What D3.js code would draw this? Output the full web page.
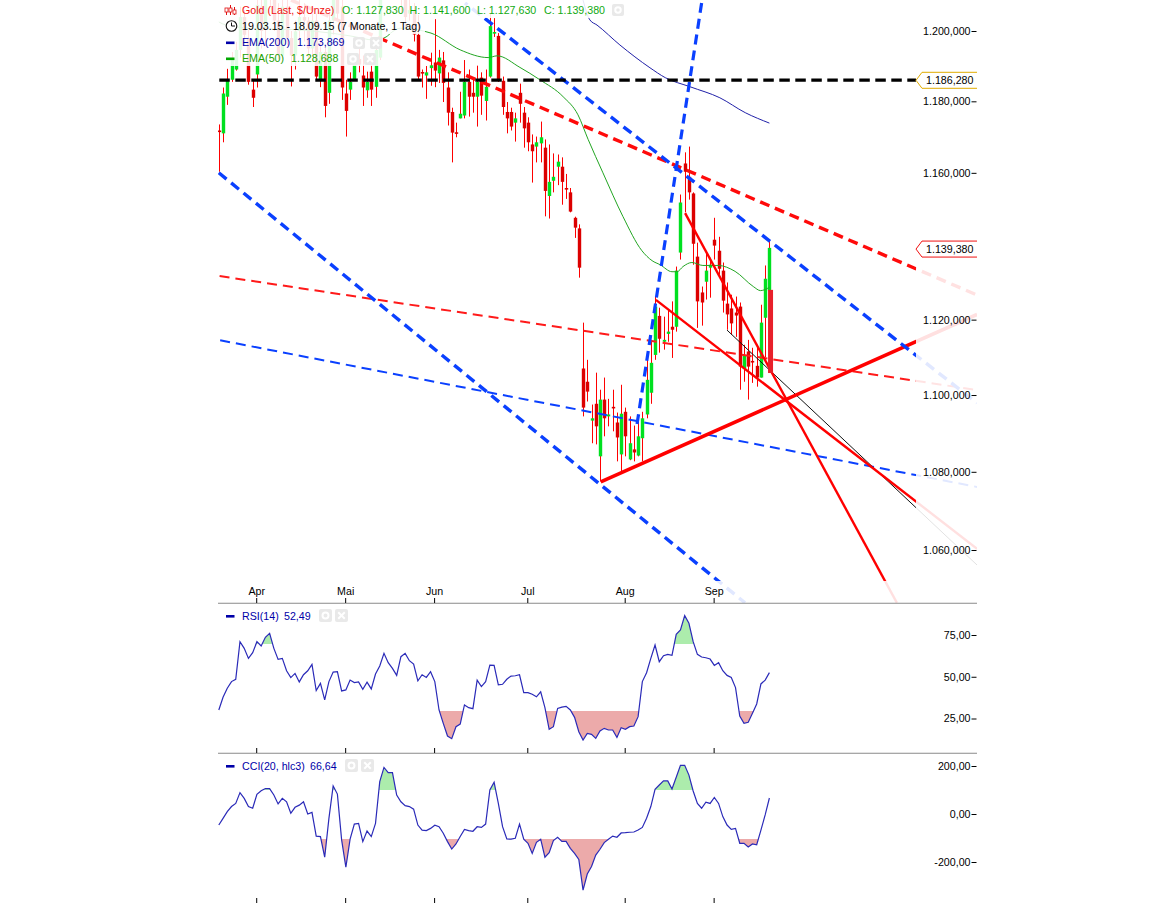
<!DOCTYPE html>
<html><head><meta charset="utf-8">
<script src="https://cdn.jsdelivr.net/npm/d3@7/dist/d3.min.js"></script>
<style>
html,body{margin:0;padding:0;background:#fff;overflow:hidden}
svg{display:block}
text{font-family:"Liberation Sans",Arial,sans-serif;font-size:10.67px}
</style></head><body>
<svg id="c" width="1152" height="905"></svg>
<script>
const monthLabels=["Apr","Mai","Jun","Jul","Aug","Sep"];
const monthIdx=[9,30,51,73,96,117];
const open_=[1171.8,1171.0,1181.3,1186.1,1189.0,1194.6,1204.0,1198.0,1183.3,1187.6,
1207,1201,1219,1211,1203,1193,1207,1198,1193,1200,
1204,1203,1195,1203,1186,1194,1182.4,1203,1211,1207,
1182.2,1183.3,1186.1,1192,1187.3,1183.1,1188.4,1184.1,1192.4,1216,
1225,1220,1225,1226,1209,1205,1206,1198.9,1188.3,1187.3,
1189.4,1191,1187.9,1191.6,1183.9,1177,1171.3,1175.2,1176,1185.5,
1182.4,1181.3,1186.7,1180.1,1187,1199.6,1198.6,1185.8,1177,1177,
1174,1182.4,1176.8,1174,1167.9,1167.3,1168.2,1167,1153.6,1157.8,
1161.7,1161.7,1155.8,1154.6,1147.6,1144.7,1107,1103.5,1093.3,1097.7,
1084,1098.8,1094.4,1096.9,1092.8,1084.5,1095.6,1083.2,1085.8,1084.2,
1088.7,1094.9,1100.6,1110.6,1121,1114.1,1116.2,1118.1,1118.1,1138.1,
1162.6,1158.9,1154.3,1137,1127.3,1130.2,1134,1141.6,1138.6,1133.2,
1124.3,1123,1121.9,1123.5,1107,1111.5,1109,1107.7,1104.6,1120.5,
1127.83];
const high_=[1173.5,1183.9,1189.2,1194,1196.9,1207,1206,1200.3,1186.1,1209,
1209,1224,1224,1214,1208,1209,1209,1200,1203,1209,
1208,1204,1205,1205,1198,1196,1205,1215,1215,1209,
1186.1,1188.2,1193,1198,1193,1188.4,1191.2,1197.4,1220,1226,
1228,1227,1232,1230,1214,1210,1208,1204.6,1189,1190,
1193.8,1203.4,1194.6,1194,1188.2,1178.2,1174,1182.7,1191.7,1189,
1186.7,1190.1,1188.2,1189,1205.2,1203.7,1199.4,1187,1179.8,1178.2,
1176.8,1185,1178.4,1175.5,1170.7,1170.1,1174.3,1169.3,1167.9,1165.4,
1165.1,1164.3,1159.7,1155.8,1147.9,1145.8,1119.2,1109.3,1097.5,1105.9,
1101.4,1104.6,1099,1101.4,1095.4,1102.7,1096.7,1094.4,1092,1094.4,
1095.6,1109.3,1114.6,1126.2,1123.2,1120.8,1122.7,1124.9,1134.3,1154,
1165.7,1167.3,1154.6,1140.8,1128.9,1138.1,1136.7,1147.6,1142.4,1135.4,
1130,1126.7,1126.2,1124.6,1113.3,1114.6,1112.5,1112.8,1124,1134.6,
1141.6];
const low_=[1160.3,1168.5,1179,1185.5,1188.7,1192.4,1196,1184.7,1178.4,1183.9,
1195,1196,1207,1200,1192,1192,1196,1184.2,1189,1198,
1197,1192,1193,1186,1184,1175.5,1179.3,1199,1203,1180.4,
1170.1,1180.4,1185.8,1188.2,1178.7,1181,1178.7,1181,1191.7,1215,
1219,1214,1222,1205,1201,1203,1197,1186.1,1183.9,1180.7,
1184.4,1184,1185.2,1179.8,1173.2,1162.9,1169.9,1175.2,1175.2,1175.7,
1176.8,1172.9,1176.2,1174.6,1186.7,1198.3,1185.5,1176.2,1171,1171.8,
1168.7,1174,1167,1166,1157.3,1162.9,1162.9,1148,1147.4,1154.6,
1156.6,1151.2,1152.8,1149.1,1142.1,1131.3,1094.4,1098.3,1087.4,1087.1,
1077.5,1089.2,1091.8,1090.5,1082.7,1080.1,1084,1083,1082.7,1084,
1082.7,1093.9,1097.7,1109.3,1111.2,1112,1114.1,1109.8,1116.8,1136.2,
1149.1,1152.6,1134.8,1117.8,1118.4,1125.4,1125.9,1136.2,1132.1,1121.9,
1117.3,1116,1115.4,1101.4,1103.5,1098.8,1103.2,1102.2,1104.6,1110,
1127.63];
const close_=[1171.5,1182.2,1186.1,1191.7,1194.6,1204,1198.9,1185.5,1181,1207.5,
1200,1219,1211,1203,1193,1207,1198,1193,1199.9,1204,
1203,1195,1203,1187,1194,1178.7,1203,1211,1205,1183.9,
1177.3,1185.5,1191.7,1190.4,1183.9,1185.5,1183.3,1194.6,1216,1225,
1220,1225,1226,1209,1204,1206,1199,1187,1187.9,1188.2,
1190.2,1188.7,1192.4,1185.2,1176.8,1171.2,1171.1,1176.5,1185.5,1181.3,
1181.3,1185.5,1181.6,1184.1,1201.4,1199.7,1186.1,1178.4,1175.2,1172.9,
1175.2,1179.3,1172.4,1168.5,1166,1168.5,1169.9,1155,1157.5,1158.9,
1163.1,1157.5,1155.6,1149.3,1144.9,1134,1096.7,1100.9,1093.9,1091.8,
1098.8,1093.9,1094.9,1096.6,1088.9,1095.1,1089.2,1087.4,1085,1089.2,
1093.9,1104,1108.5,1123.5,1114.9,1114.6,1116.8,1117.3,1133.2,1151.8,
1160.3,1154.6,1140.5,1124.9,1124.6,1133.2,1134.8,1140,1133.7,1125.1,
1121.4,1119,1121.1,1107.5,1110.6,1107.5,1108.6,1104.6,1119.2,1131,
1139.38];
const ema50Idx=[0,1.7,7.4,19.2,31,36.9,39.5,40.9,42.8,50.1,57,63.6,65.7,71.1,75.8,81.3,84.8,87.2,90.7,95.4,99.9,102.3,104.2,107,108.2,109.6,111.7,114.3,117.9,121.9,126.2,127.9,130];
const ema50Val=[1202.6,1201.7,1200.8,1200.3,1198.6,1197.4,1198.3,1199.7,1200.8,1199.4,1194.6,1192.4,1192.9,1189.6,1186.1,1181.3,1176.2,1169.3,1160,1148,1138.6,1135.9,1134.8,1132.9,1132.9,1134.3,1135.4,1134.6,1134.6,1133,1128.9,1127.8,1128.69];
const ema200Idx=[86,87.6,89.3,94.7,101.8,105.4,111.3,118.3,124.3,130];
const ema200Val=[1208.9,1203.2,1201.7,1196,1189.5,1186.7,1184.1,1181,1176.8,1173.87];
const rsi=[30.1,37.7,43.1,47.1,48.5,71,67,61,64.4,71,68.4,73.6,76,67,60.4,61,53.6,49.5,52,46.9,
51.2,53.6,57.4,41.7,46,36.1,47.1,52.8,53,41.5,42.1,48,46.5,46.9,42.5,46.7,42.7,51.6,56.4,64,
58.4,55,50.8,62,64,59.6,57.6,47.5,51.2,49.6,53,47.1,30.1,22.1,14.5,12.9,20.1,21.7,33.1,31.5,
30.9,48,44.1,47.1,57,56.8,45.1,45.5,48.5,50.4,50.6,51.2,40.5,40.5,39.5,38,41,31.5,18.5,20.1,
31,31.8,32.3,30.1,25.7,17.1,12.1,16.1,15.5,13.1,17.5,19.1,18.1,18.1,13.7,19.5,18.5,20.1,20.5,26.1,
47.1,52.4,61,69,59,62.6,63.4,62.8,75.4,78,86.6,82,71,63.4,61.8,61.4,60.6,56.8,58.4,53.6,
50.8,49.6,43.5,26.5,22.1,22.7,28.1,33.7,45.7,48,52.49];
const cci=[-46,-18,10,31,44,89,65,31,24,82,97,106,106,79,42,65,51,3,28,37,
51,0,7,-92,-94,-180,-18,117,83,-108,-222,-105,-42,-39,-115,-71,-94,-39,135,194,
172,172,79,51,35,31,20,-46,-67,-69,-60,-47,-53,-80,-115,-146,-125,-94,-64,-69,
-72,-53,-56,-42,100,132,44,-53,-104,-105,-101,-42,-105,-122,-164,-118,-105,-180,-161,-111,
-97,-114,-114,-143,-164,-189,-317,-250,-219,-171,-147,-119,-105,-92,-97,-79,-78,-76,-75,-67,
-56,-18,31,103,121,138,138,104,153,203,203,162,96,44,24,49,44,69,44,-11,
-46,-64,-60,-122,-122,-137,-125,-128,-67,-4,66.64];
const priceTicks=[1200,1180,1160,1120,1100,1080,1060];
const priceTickLabels=["1.200,000","1.180,000","1.160,000","1.120,000","1.100,000","1.080,000","1.060,000"];
const rsiTicks=[75,50,25];
const rsiTickLabels=["75,00","50,00","25,00"];
const cciTicks=[200,0,-200];
const cciTickLabels=["200,00","0,00","-200,00"];
const blueChannelLow=[-0.19,1160.2,124.25,1046.7];
const blueChannelHigh=[58.13,1208.06,179.03,1097.9];
const blueSteep=[98.75,1092.4,114.1,1208.9];
const blueLight=[-0.19,1114.6,179.03,1076.1];
const redHeavyDash=[17.05,1208.9,179.03,1126.6];
const redLightDash=[-0.19,1131.8,179.03,1101.3];
const redHeavySolid=[90.18,1077.4,179.03,1121.4];
const redWedgeLine=[103.2,1125.3,179.03,1060.3];
const redSteepLine=[110.1,1148.9,160.1,1046.7];
const blackThin=[120,1117.2,179.03,1056.2];
const lastBar=[130.27,1128,1105.8];
const levelLine=[-0.19,164.6,1186.28];
const lastPrice=1139.38;

const svg=d3.select("#c");
const L=218,R=977,T=0,B1=603,B2=753,B3=903;
const x=d3.scaleLinear().domain([0,130]).range([218.8,769.4]);
const y=d3.scaleLog().domain([1200,1060]).range([31,550]);
const yR=d3.scaleLinear().domain([25,75]).range([718.5,635]);
const yC=d3.scaleLinear().domain([-200,200]).range([862,766]);
const defs=svg.append("defs");
function clip(id,x0,y0,w,h){defs.append("clipPath").attr("id",id).append("rect").attr("x",x0).attr("y",y0).attr("width",w).attr("height",h);}
clip("cm",L,T,R-L,B1-T);
const edge={rh:644,rl:711,ch:790,cl:839};
clip("rh",L,B1,R-L,edge.rh-B1);clip("rl",L,edge.rl,R-L,B2-edge.rl);
clip("ch",L,B2,R-L,edge.ch-B2);clip("cl",L,edge.cl,R-L,B3-edge.cl);

const main=svg.append("g").attr("clip-path","url(#cm)");
const idx=d3.range(open_.length);
const RED="#ff0000",BODYR="#dc0000",BODYG="#00e020";
main.append("g").selectAll("rect").data(idx).join("rect")
 .attr("x",i=>Math.round(x(i))).attr("width",1)
 .attr("y",i=>y(high_[i])).attr("height",i=>y(low_[i])-y(high_[i])).attr("fill",RED);
main.append("g").selectAll("rect").data(idx).join("rect")
 .attr("x",i=>Math.round(x(i))-1.2).attr("width",3.4)
 .attr("y",i=>Math.min(y(open_[i]),y(close_[i])))
 .attr("height",i=>Math.max(1.6,Math.abs(y(open_[i])-y(close_[i]))))
 .attr("fill",i=>close_[i]>=open_[i]?BODYG:BODYR);

const emaLine=d3.line().x(d=>x(d[0])).y(d=>y(d[1])).curve(d3.curveMonotoneX);
main.append("path").attr("d",emaLine(ema50Idx.map((v,i)=>[v,ema50Val[i]]))).attr("fill","none").attr("stroke","#22a522").attr("stroke-width",1);
main.append("path").attr("d",emaLine(ema200Idx.map((v,i)=>[v,ema200Val[i]]))).attr("fill","none").attr("stroke","#2020a8").attr("stroke-width",1);

function seg(d,color,w,dash,off){
 main.append("line")
  .attr("x1",x(d[0])).attr("y1",y(d[1])).attr("x2",x(d[2])).attr("y2",y(d[3]))
  .attr("stroke",color).attr("stroke-width",w).attr("stroke-dasharray",dash||null).attr("stroke-dashoffset",off||0);
}
const BLUE="#0a40ff";
seg(redLightDash,"#ff1a1a",2,"10,6",-1.6);
seg(blueLight,BLUE,2,"10,6",-2.2);
seg(blackThin,"#111",1);
seg(redWedgeLine,"#ff0000",2.4);
seg(redSteepLine,"#ff0000",2.4);
seg(redHeavySolid,"#ff0000",3.6);
seg(redHeavyDash,"#ff0a0a",3.4,"10,6",-14.7);
seg(blueChannelLow,BLUE,3.4,"10,6",-1);
seg(blueChannelHigh,BLUE,3.4,"10,6",-9.1);
seg(blueSteep,BLUE,3.2,"10,6",0);
main.append("line").attr("x1",x(levelLine[0])).attr("x2",x(levelLine[1])).attr("y1",y(levelLine[2])+1).attr("y2",y(levelLine[2])+1)
 .attr("stroke","#000").attr("stroke-width",3.2).attr("stroke-dasharray","10.5,5.5").attr("stroke-dashoffset",-1.3);
main.append("rect").attr("x",x(lastBar[0])-2.5).attr("width",5).attr("y",y(lastBar[1])).attr("height",y(lastBar[2])-y(lastBar[1])).attr("fill","#e8202a");

// fading veils
const veil=[[916,0,61,603],[218,581,759,22],[218,0,405,18],[218,18,207,16],[218,34,165,32]];
svg.append("g").selectAll("rect").data(veil).join("rect")
 .attr("x",d=>d[0]).attr("y",d=>d[1]).attr("width",d=>d[2]).attr("height",d=>d[3]).attr("fill","#fff").attr("opacity",0.88);

// indicator panels
function panel(vals,scale,hiEdge,loEdge,clipH,clipL){
 const g=svg.append("g");
 const area=d3.area().x((d,i)=>x(i)).y1(d=>scale(d));
 g.append("path").attr("clip-path",`url(#${clipH})`).attr("d",area.y0(hiEdge+1)(vals)).attr("fill","#acecac");
 g.append("path").attr("clip-path",`url(#${clipL})`).attr("d",area.y0(loEdge-1)(vals)).attr("fill","#ecaaaa");
 g.append("path").attr("d",d3.line().x((d,i)=>x(i)).y(d=>scale(d))(vals)).attr("fill","none").attr("stroke","#2a2ab8").attr("stroke-width",1.2);
}
panel(rsi,yR,edge.rh,edge.rl,"rh","rl");
panel(cci,yC,edge.ch,edge.cl,"ch","cl");

// separators + month ticks
svg.append("g").selectAll("line").data([B1,B2]).join("line")
 .attr("x1",L).attr("x2",R).attr("y1",d=>d+0.25).attr("y2",d=>d+0.25).attr("stroke","#8a8a8a").attr("stroke-width",1.2);
const monthAxis=d3.axisTop(x).tickValues(monthIdx).tickSize(5).tickPadding(3).tickFormat((d,i)=>monthLabels[i]);
const ax1=svg.append("g").attr("transform",`translate(-0.7,${B1})`).call(monthAxis);
ax1.select(".domain").remove();
[B2,B3].forEach(b=>{
 const a=svg.append("g").attr("transform",`translate(-0.7,${b})`).call(d3.axisTop(x).tickValues(monthIdx).tickSize(5).tickFormat(""));
 a.select(".domain").remove();
});
function yAxis(scale,vals,labels){
 const a=svg.append("g").attr("transform",`translate(${R-0.5},0)`)
  .call(d3.axisLeft(scale).tickValues(vals).tickSize(5).tickPadding(1).tickFormat((d,i)=>labels[i]));
 a.select(".domain").remove();
}
yAxis(y,priceTicks,priceTickLabels);
yAxis(yR,rsiTicks,rsiTickLabels);
yAxis(yC,cciTicks,cciTickLabels);
svg.selectAll(".tick text").style("font-size","10.67px").style("font-family",'"Liberation Sans",Arial,sans-serif').attr("fill","#000");

// price tags
function tag(price,label,color){
 const c=y(price)+1.2;
 svg.append("path").attr("d",`M977,${c-8}H922L916,${c}L922,${c+8}H977`).attr("fill","#fff").attr("stroke",color).attr("stroke-width",1);
 svg.append("text").attr("x",926).attr("y",c+4).text(label).attr("fill","#000");
}
tag(levelLine[2],"1.186,280","#e0ac00");
tag(lastPrice,"1.139,380","#f01010");

// legend
function txt(xp,yc,s,col){svg.append("text").attr("x",xp).attr("y",yc+4).text(s).attr("fill",col);}
const LG="#11aa11";
txt(242,10,"Gold (Last, $/Unze)","#f01010");
txt(342,10,"O: 1.127,830",LG);txt(409.5,10,"H: 1.141,600",LG);txt(477,10,"L: 1.127,630",LG);txt(544,10,"C: 1.139,380",LG);
txt(242,26,"19.03.15 - 18.09.15 (7 Monate, 1 Tag)","#000");
txt(242,42,"EMA(200)","#0000a8");txt(297,42,"1.173,869","#0000a8");
txt(242,58,"EMA(50)","#22a000");txt(291,58,"1.128,688","#22a000");
txt(242,616,"RSI(14)","#0000a8");txt(284,616,"52,49","#0000a8");
txt(242,766,"CCI(20, hlc3)","#0000a8");txt(310,766,"66,64","#0000a8");
[[226,41.5,"#0000a8"],[226,57.5,"#00a800"],[226,615,"#0000a8"],[226,765,"#0000a8"]].forEach(d=>{
 svg.append("rect").attr("x",d[0]).attr("y",d[1]).attr("width",8.5).attr("height",2.6).attr("fill",d[2]);
});
// candlestick icon
[[226,9,15,7,4],[230,5,15,7,4],[234,7,15,9,4]].forEach(d=>{
 svg.append("line").attr("x1",d[0]+.5).attr("x2",d[0]+.5).attr("y1",d[1]).attr("y2",d[2]).attr("stroke","#e01010");
 svg.append("rect").attr("x",d[0]-1).attr("y",d[3]+1).attr("width",3).attr("height",d[4]).attr("fill","#fff").attr("stroke","#e01010").attr("stroke-width",.8);
});
// clock icon
svg.append("circle").attr("cx",231.5).attr("cy",26).attr("r",5.3).attr("fill","#fff").attr("stroke","#111").attr("stroke-width",1.1);
svg.append("path").attr("d","M231.5,22.5V26H235").attr("fill","none").attr("stroke","#111");
// legend buttons
function btnO(xp,yp,w){
 svg.append("rect").attr("x",xp).attr("y",yp).attr("width",w).attr("height",w).attr("rx",2).attr("fill","#e9e9e9");
 svg.append("circle").attr("cx",xp+w/2).attr("cy",yp+w/2).attr("r",w*0.23).attr("fill","none").attr("stroke","#fff").attr("stroke-width",2);
}
function btnX(xp,yp,w){
 svg.append("rect").attr("x",xp).attr("y",yp).attr("width",w).attr("height",w).attr("rx",2).attr("fill","#e9e9e9");
 const a=w*.25;
 svg.append("path").attr("d",`M${xp+a},${yp+a}L${xp+w-a},${yp+w-a}M${xp+w-a},${yp+a}L${xp+a},${yp+w-a}`).attr("stroke","#fff").attr("stroke-width",2);
}
btnO(612,4,12);
btnO(353,37,12);btnX(370,37,12);
btnO(347,53,12);btnX(364,53,12);
btnO(319,609,13);btnX(335,609,13);
btnO(345,759,13);btnX(361,759,13);
</script></body></html>
